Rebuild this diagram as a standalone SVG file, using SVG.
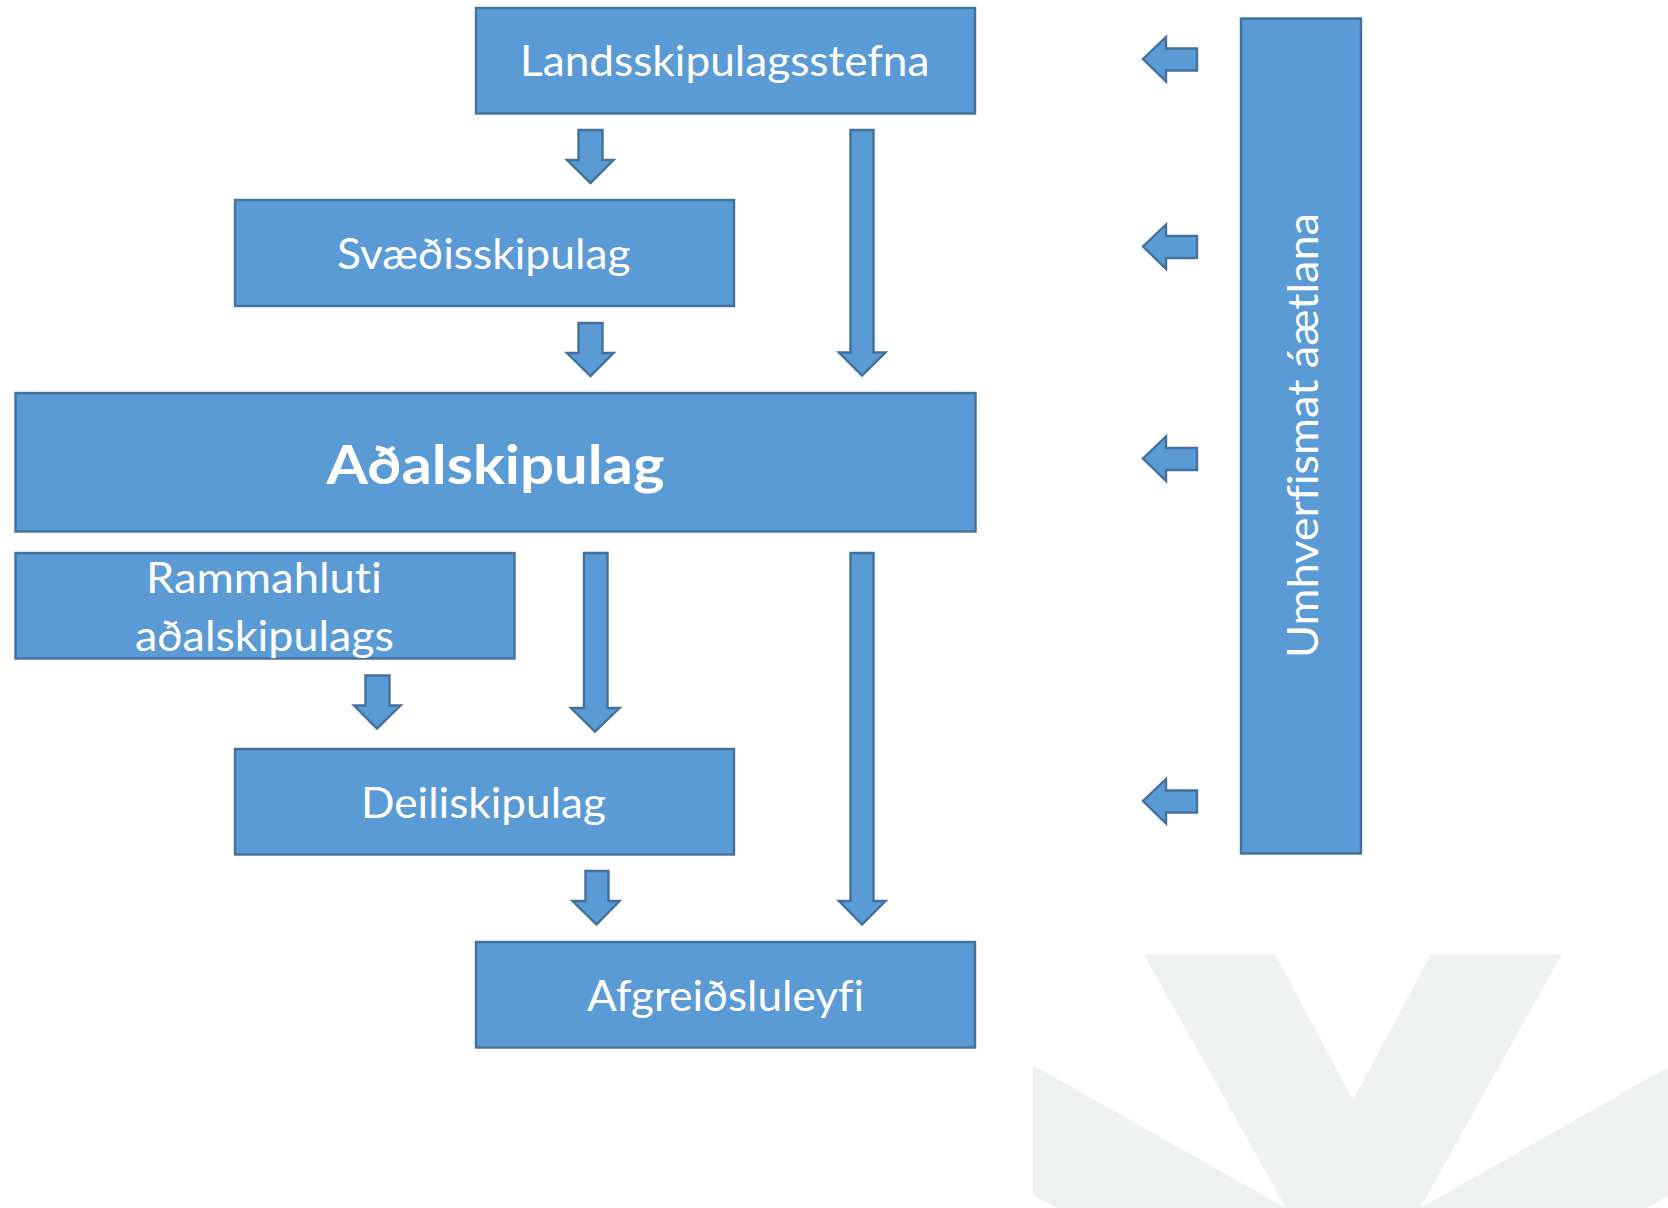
<svg xmlns="http://www.w3.org/2000/svg" width="1668" height="1208" viewBox="0 0 1668 1208">
<style>
.s{fill:#5B9BD5;stroke:#41719C;stroke-width:2.4}
.t{font-family:"Lato","Open Sans","Liberation Sans",sans-serif;font-size:42px;fill:#fff;font-variant-ligatures:none}
.b{font-size:53px;font-weight:700}
</style>
<rect width="1668" height="1208" fill="#fff"/>
<g id="watermark" fill="#F0F1F1">
<path d="M1143.6 954H1275L1353 1100L1431 954H1562L1420 1208H1286Z"/>
<path d="M1033 1065L1286 1208H1057.5L1033 1196Z"/>
<path d="M1668 1067L1420 1208H1648L1668 1196Z"/>
</g>
<g id="connectors">
<path class="s" d="M578.500 130H602.500V160H613.500L590.500 183L567 160H578.500Z"/>
<path class="s" d="M578.500 323H602.500V353H613.500L590.500 376L567 353H578.500Z"/>
<path class="s" d="M850.500 130H873.500V352.500H885.500L862 375.500L839 352.500H850.500Z"/>
<path class="s" d="M584 553H607.500V708H619.500L595 731.500L571 708H584Z"/>
<path class="s" d="M850.500 553H873.500V901H885.500L862 924.500L839 901H850.500Z"/>
<path class="s" d="M365.500 675.500H389.500V705.500H400.500L377 728.500L354 705.500H365.500Z"/>
<path class="s" d="M585.500 871H608.500V901H619.500L596.500 924.500L572.500 901H585.500Z"/>
<path class="s" d="M1197 48.500H1166V37L1143 59L1166 81.500V70.500H1197Z"/>
<path class="s" d="M1197 236H1166V224.500L1143 246.500L1166 269V258H1197Z"/>
<path class="s" d="M1197 448H1166V436.500L1143 458.500L1166 481V470H1197Z"/>
<path class="s" d="M1197 790.500H1166V779L1143 801L1166 823.500V812.500H1197Z"/>
</g>
<g id="landsskipulagsstefna"><rect class="s" x="476" y="8" width="499" height="105.500"/><text class="t" x="520" y="76" textLength="409.500" lengthAdjust="spacingAndGlyphs">Landsskipulagsstefna</text></g>
<g id="svaedisskipulag"><rect class="s" x="235" y="200" width="499" height="106"/><text class="t" x="337" y="269" textLength="293.500" lengthAdjust="spacingAndGlyphs">Svæðisskipulag</text></g>
<g id="adalskipulag"><rect class="s" x="15.500" y="393" width="960" height="138.500"/><text class="t b" x="326.500" y="484" textLength="338" lengthAdjust="spacingAndGlyphs">Aðalskipulag</text></g>
<g id="rammahluti"><rect class="s" x="15.500" y="553" width="499" height="105.500"/><text class="t" x="146" y="593" textLength="236" lengthAdjust="spacingAndGlyphs">Rammahluti</text><text class="t" x="135" y="651" textLength="259" lengthAdjust="spacingAndGlyphs">aðalskipulags</text></g>
<g id="deiliskipulag"><rect class="s" x="235" y="749" width="499" height="105.500"/><text class="t" x="361" y="818" textLength="245" lengthAdjust="spacingAndGlyphs">Deiliskipulag</text></g>
<g id="afgreidsluleyfi"><rect class="s" x="476" y="942" width="499" height="105.500"/><text class="t" x="587" y="1011" textLength="277" lengthAdjust="spacingAndGlyphs">Afgreiðsluleyfi</text></g>
<g id="umhverfismat"><rect class="s" x="1241" y="18.500" width="120" height="835"/><text class="t" transform="translate(1317.500 658) rotate(-90)" textLength="445" lengthAdjust="spacingAndGlyphs">Umhverfismat áætlana</text></g>
</svg>
